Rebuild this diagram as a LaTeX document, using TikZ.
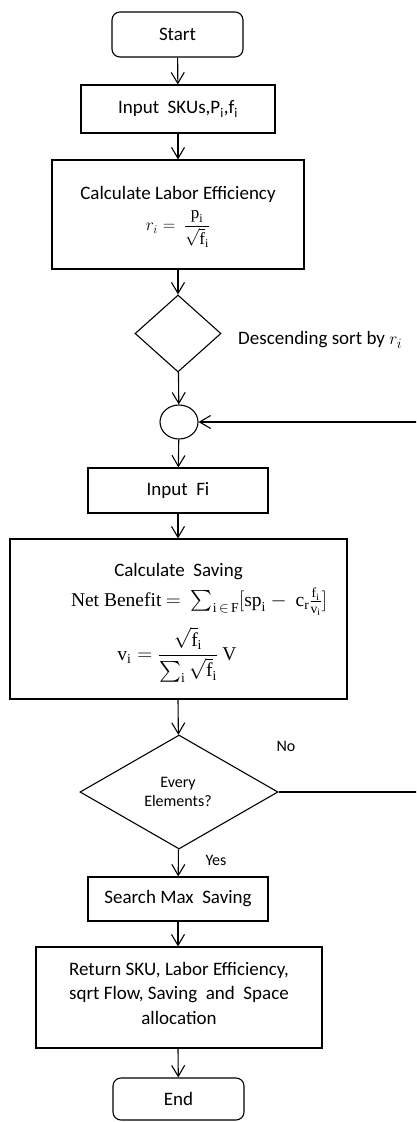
\documentclass[tikz,border=0pt]{standalone}
\usepackage{amsmath}
\usepackage[no-math]{fontspec}
\setmainfont{Carlito}
\newfontfamily\serifnb{Liberation Serif}
\newcommand\up[1]{\text{\serifnb #1}}
\usetikzlibrary{shapes.geometric,arrows.meta}
\tikzset{
  base/.style={draw=black, line width=1.1pt, inner sep=0pt, font=\fontsize{19}{24}\selectfont},
  box/.style={base, rectangle},
  term/.style={base, rectangle, rounded corners=8pt},
  dec/.style={base, diamond},
  joint/.style={base, ellipse},
  txt/.style={inner sep=0pt, align=center, font=\fontsize{19}{24.5}\selectfont},
  mathtxt/.style={inner sep=0pt, align=center, font=\fontsize{19.5}{24}\selectfont},
  small/.style={inner sep=0pt, align=center, font=\fontsize{16}{19}\selectfont},
  flow/.style={line width=1.1pt, -{Straight Barb[length=11pt,width=13pt,line width=1.1pt]}}
}
\begin{document}
\begin{tikzpicture}[x=1pt,y=-1pt]
\useasboundingbox (0,0) rectangle (416,1122);
\clip (0,0) rectangle (416,1122);
% nodes
\node[term, minimum width=131pt, minimum height=45pt] (start) at (177.5,34.5) {Start};
\node[box, minimum width=194pt, minimum height=48pt] (input) at (178,109) {Input~ SKUs,P\textsubscript{i},f\textsubscript{i}};
\node[box, minimum width=252pt, minimum height=109pt] (calc1) at (178,214.5) {};
\node[txt] (calc1a) at (178,194) {Calculate Labor Efficiency};
\node[mathtxt, font=\fontsize{17}{20}\selectfont] (calc1b) at (178,229) {$r_i =\ \dfrac{\up{p}_{\up{i}}}{\sqrt{\up{f}}_{\up{i}}}$};
\node[dec, minimum width=86pt, minimum height=77pt] (sort) at (178,333.5) {};
\node[txt, anchor=west] (sortt) at (238,340) {Descending sort by $r_i$};
\node[joint, minimum width=38pt, minimum height=34pt] (join) at (179,422) {};
\node[box, minimum width=180pt, minimum height=45pt] (inputf) at (178,490.5) {Input~ Fi};
\node[box, minimum width=337pt, minimum height=160pt] (calc2) at (178.5,619) {};
\node[txt] (calc2a) at (178.5,572) {Calculate~ Saving};
\node[mathtxt] (calc2b) at (199,602) {\up{Net Benefit} $= \ \sum_{\up{i}\,\in\,\up{F}}[\up{sp}_{\up{i}} -\ \up{c}_{\up{r}}\tfrac{\up{f}_{\up{i}}}{\up{v}_{\up{i}}}]$};
\node[mathtxt] (calc2c) at (177,655) {$\up{v}_{\up{i}} = \dfrac{\sqrt{\up{f}}_{\up{i}}}{\sum_{\up{i}}\sqrt{\up{f}}_{\up{i}}}\ \up{V}$};
\node[dec, minimum width=198pt, minimum height=114pt] (every) at (179,792) {};
\node[small] (everyt) at (178,792) {Every\\Elements?};
\node[small] (no) at (286,746) {No};
\node[small] (yes) at (216,860) {Yes};
\node[box, minimum width=180pt, minimum height=44pt] (search) at (178,899) {Search Max~ Saving};
\node[box, minimum width=286pt, minimum height=101pt] (ret) at (179,997.5) {};
\node[txt] (rett) at (179,993) {Return SKU, Labor Efficiency,\\sqrt Flow, Saving~ and~ Space\\allocation};
\node[term, minimum width=131pt, minimum height=42pt] (end) at (178.5,1099) {End};
\coordinate (loopr) at (422,792);
% connectors
\draw[flow] (start) -- (input);
\draw[flow] (input) -- (calc1);
\draw[flow] (calc1) -- (sort);
\draw[flow] (sort) -- (join);
\draw[flow] (join) -- (inputf);
\draw[flow] (inputf) -- (calc2.north -| inputf.south);
\draw[flow] (calc2.south -| inputf.south) -- (every);
\draw[flow] (every) -- (search);
\draw[flow] (search) -- (ret.north -| search.south);
\draw[flow] (ret.south -| search.south) -- (end);
\draw[flow] (every.east) -- (loopr) |- (join.east);
\end{tikzpicture}
\end{document}
